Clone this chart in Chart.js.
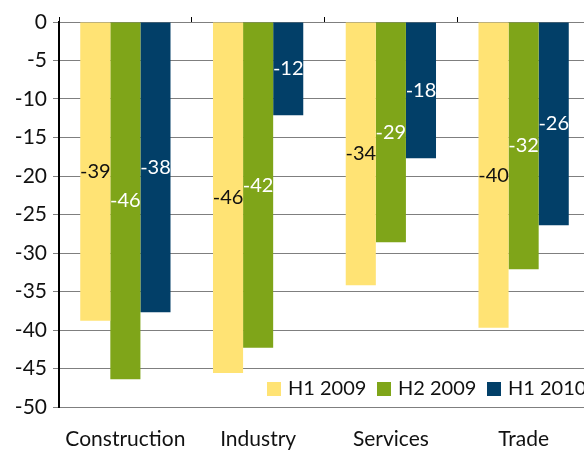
<!DOCTYPE html>
<html>
<head>
<meta charset="utf-8">
<script src="https://cdn.jsdelivr.net/npm/chart.js@4/dist/chart.umd.min.js"></script>
<style>
    html, body { margin: 0; padding: 0; background: #fff; overflow: hidden; }
    #wrap { width: 592px; height: 450px; }
</style>
</head>
<body>
<div id="wrap"><canvas id="sectorChart" width="592" height="450"></canvas></div>
<script>
const categories = ['Construction', 'Industry', 'Services', 'Trade'];
const seriesNames = ['H1 2009', 'H2 2009', 'H1 2010'];
const h1_2009 = [-38.8, -45.6, -34.2, -39.7];
const h2_2009 = [-46.4, -42.3, -28.6, -32.1];
const h1_2010 = [-37.7, -12.1, -17.7, -26.4];
const yTicks = [0, -5, -10, -15, -20, -25, -30, -35, -40, -45, -50];

const barColors = ['#FFE374', '#7FA519', '#023F68'];
const labelColors = ['#111111', '#ffffff', '#ffffff'];
const fontFamily = 'Lato, "Open Sans", sans-serif';

const valueLabels = {
    id: 'valueLabels',
    afterDatasetsDraw(chart) {
        const ctx = chart.ctx;
        ctx.save();
        ctx.font = '20px ' + fontFamily;
        ctx.textAlign = 'center';
        ctx.textBaseline = 'middle';
        chart.data.datasets.forEach((ds, i) => {
            const meta = chart.getDatasetMeta(i);
            meta.data.forEach((bar, j) => {
                ctx.fillStyle = labelColors[i];
                ctx.fillText(Math.round(ds.data[j]).toString(), bar.x, (bar.y + bar.base) / 2);
            });
        });
        ctx.restore();
    }
};

const boxLegend = {
    id: 'boxLegend',
    afterDraw(chart) {
        const ctx = chart.ctx;
        const area = chart.chartArea;
        ctx.save();
        ctx.fillStyle = '#ffffff';
        ctx.fillRect(262, 372, area.right - 262, 32);
        ctx.font = '20px ' + fontFamily;
        ctx.textBaseline = 'middle';
        let x = 267;
        const y = 389;
        seriesNames.forEach((name, i) => {
            ctx.fillStyle = barColors[i];
            ctx.fillRect(x, y - 7, 14, 14);
            ctx.fillStyle = '#111111';
            ctx.textAlign = 'left';
            ctx.fillText(name, x + 21, y);
            x += 110;
        });
        ctx.restore();
    }
};

new Chart(document.getElementById('sectorChart').getContext('2d'), {
    type: 'bar',
    data: {
        labels: categories,
        datasets: [
            { label: seriesNames[0], data: h1_2009, backgroundColor: barColors[0] },
            { label: seriesNames[1], data: h2_2009, backgroundColor: barColors[1] },
            { label: seriesNames[2], data: h1_2010, backgroundColor: barColors[2] }
        ]
    },
    options: {
        responsive: false,
        animation: false,
        layout: { padding: { top: 22, right: 2, left: 0, bottom: 0 } },
        datasets: {
            bar: { categoryPercentage: 0.68, barPercentage: 1.0 }
        },
        plugins: {
            legend: { display: false },
            title: { display: false },
            tooltip: { enabled: false }
        },
        scales: {
            x: {
                position: 'bottom',
                grid: { display: false, drawTicks: false },
                border: { display: false },
                ticks: {
                    color: '#111111',
                    font: { family: fontFamily, size: 21 },
                    padding: 20
                },
                afterFit(scale) { scale.height = 43; }
            },
            xTop: {
                position: 'top',
                offset: true,
                labels: categories,
                grid: { offset: true, drawOnChartArea: false, tickLength: 5, color: '#000000' },
                border: { display: false },
                ticks: { display: false },
                afterFit(scale) { scale.height = 0; }
            },
            y: {
                min: -50,
                max: 0,
                afterBuildTicks(scale) {
                    scale.ticks = yTicks.map(v => ({ value: v }));
                },
                grid: { color: '#7f7f7f', lineWidth: 1, tickLength: 6 },
                border: { color: '#000000', width: 2 },
                ticks: {
                    color: '#111111',
                    font: { family: fontFamily, size: 21 },
                    padding: 6
                },
                afterFit(scale) { scale.width = 59; }
            }
        }
    },
    plugins: [valueLabels, boxLegend]
});
</script>
</body>
</html>
